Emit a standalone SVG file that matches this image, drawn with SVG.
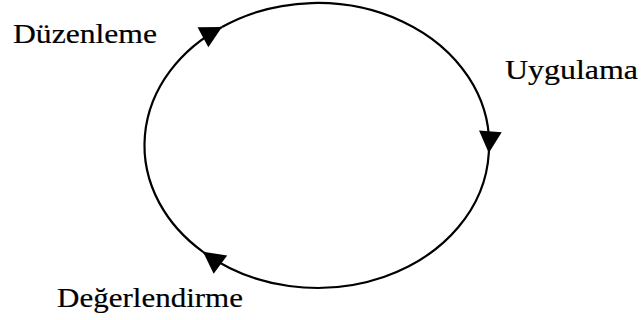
<svg xmlns="http://www.w3.org/2000/svg" width="643" height="320" viewBox="0 0 643 320">
  <style>
    .lbl { font-family: "Liberation Serif", "DejaVu Serif", serif; font-size: 28px; fill: #000; stroke: #000; stroke-width: 0.2; }
    .arc { fill: none; stroke: #000; stroke-width: 2.2; }
  </style>
  <defs>
    <marker id="ah" markerUnits="userSpaceOnUse" markerWidth="26" markerHeight="26" viewBox="-21 -12 23 24" refX="0" refY="0" orient="auto">
      <path d="M0,0 L-20,-10.5 L-20,10.5 Z" fill="#000"/>
    </marker>
  </defs>
  <rect width="643" height="320" fill="#fff"/>
  <g id="connectors">
    <path class="arc" marker-end="url(#ah)" d="M203,251.8 A171.5,141.5 0 0 1 222,27"/>
    <path class="arc" marker-end="url(#ah)" d="M222,27 A171.5,141.5 0 0 1 488.8,153"/>
    <path class="arc" marker-end="url(#ah)" d="M488.8,153 A171.5,141.5 0 0 1 203,251.8"/>
  </g>
  <g id="node-duzenleme">
    <text class="lbl" x="13" y="43" textLength="144" lengthAdjust="spacingAndGlyphs">Düzenleme</text>
  </g>
  <g id="node-uygulama">
    <text class="lbl" x="505" y="79" textLength="133" lengthAdjust="spacingAndGlyphs">Uygulama</text>
  </g>
  <g id="node-degerlendirme">
    <text class="lbl" x="57" y="307" textLength="186" lengthAdjust="spacingAndGlyphs">Değerlendirme</text>
  </g>
</svg>
